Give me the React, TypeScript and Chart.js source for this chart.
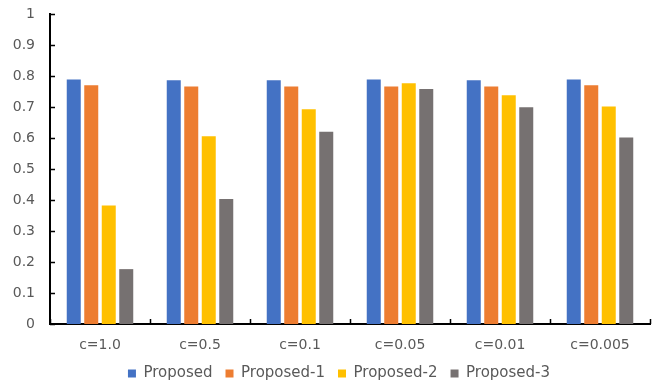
import React, { useEffect, useRef } from "react";
import { Chart, registerables } from "chart.js";

Chart.register(...registerables);

const categories = ["c=1.0", "c=0.5", "c=0.1", "c=0.05", "c=0.01", "c=0.005"];
const seriesNames = ["Proposed", "Proposed-1", "Proposed-2", "Proposed-3"];
const proposed = [0.789, 0.786, 0.786, 0.789, 0.786, 0.789];
const proposed1 = [0.77, 0.766, 0.766, 0.766, 0.766, 0.77];
const proposed2 = [0.382, 0.606, 0.693, 0.777, 0.738, 0.702];
const proposed3 = [0.177, 0.403, 0.62, 0.758, 0.699, 0.602];
const colors = ["#4472C4", "#ED7D31", "#FFC000", "#767171"];

const innerTicks = {
  id: "innerTicks",
  afterLayout(chart: any) {
    // centre the legend a little to the right, as in the original
    const lg = chart.legend;
    if (lg) {
      lg.left += 14;
      lg.right += 14;
    }
  },
  afterDatasetsDraw(chart: any) {
    const { ctx, chartArea } = chart;
    const x = chart.scales.x;
    const y = chart.scales.y;
    ctx.save();
    ctx.strokeStyle = "#000000";
    ctx.lineWidth = 1.5;
    ctx.beginPath();
    y.ticks.forEach((_t: any, i: number) => {
      const py = Math.round(y.getPixelForTick(i)) + 0.5;
      ctx.moveTo(chartArea.left, py);
      ctx.lineTo(chartArea.left + 5, py);
    });
    for (let i = 0; i <= categories.length; i++) {
      const px = Math.round(x.getPixelForValue(i - 0.5)) + 0.5;
      ctx.moveTo(px, chartArea.bottom);
      ctx.lineTo(px, chartArea.bottom - 5);
    }
    ctx.stroke();
    ctx.restore();
  },
};

export default function App() {
  const ref = useRef<HTMLCanvasElement>(null);
  useEffect(() => {
    if (!ref.current) return;
    const values = [proposed, proposed1, proposed2, proposed3];
    const chart = new Chart(ref.current, {
      type: "bar",
      data: {
        labels: categories,
        datasets: seriesNames.map((name, i) => ({
          label: name,
          data: values[i],
          backgroundColor: colors[i],
          borderWidth: 0,
          categoryPercentage: 0.7,
          barPercentage: 0.8,
        })),
      },
      options: {
        animation: false,
        responsive: true,
        maintainAspectRatio: false,
        layout: { padding: { top: 14, right: 11, left: 0, bottom: -5 } },
        plugins: {
          tooltip: { enabled: false },
          legend: {
            position: "bottom",
            labels: {
              boxWidth: 8,
              boxHeight: 8,
              padding: 13,
              color: "#595959",
              font: { family: "DejaVu Sans", size: 15 },
            },
          },
        },
        scales: {
          x: {
            grid: { display: false, drawTicks: false },
            border: { display: true, color: "#000000", width: 2 },
            afterFit: (s: any) => {
              s.height = 29;
            },
            ticks: {
              color: "#595959",
              padding: 13,
              font: { family: "DejaVu Sans", size: 14 },
            },
          },
          y: {
            min: 0,
            max: 1,
            grid: { display: false, drawTicks: false },
            border: { display: true, color: "#000000", width: 2 },
            afterFit: (s: any) => {
              s.width = 50;
              s.paddingTop = 0;
              s.paddingBottom = 0;
            },
            ticks: {
              stepSize: 0.1,
              color: "#595959",
              padding: 15,
              font: { family: "DejaVu Sans", size: 14 },
              callback: (v: any) => String(Math.round(Number(v) * 10) / 10),
            },
          },
        },
      },
      plugins: [innerTicks],
    });
    return () => chart.destroy();
  }, []);
  return (
    <div style={{ position: "fixed", left: 0, top: 0, width: 661, height: 386, background: "#fff" }}>
      <canvas ref={ref} />
    </div>
  );
}
